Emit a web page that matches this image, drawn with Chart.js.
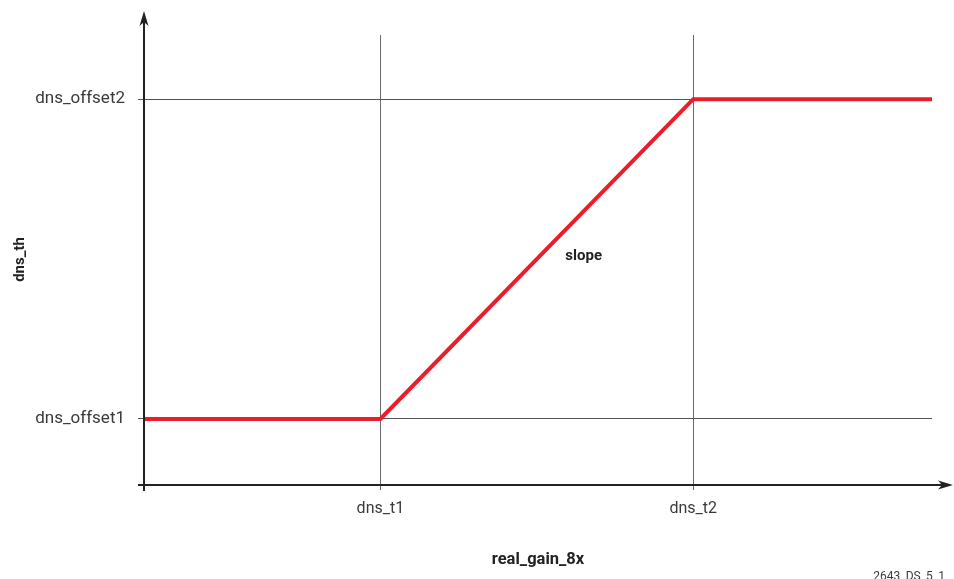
<!DOCTYPE html>
<html>
<head>
<meta charset="utf-8">
<script src="https://cdn.jsdelivr.net/npm/chart.js@4"></script>
<style>
  html, body { margin: 0; padding: 0; background: #fff; }
  #wrap { width: 954px; height: 579px; position: relative; }
</style>
</head>
<body>
<div id="wrap"><canvas id="dnsChart"></canvas></div>
<script>
// Tick positions and names (x: real_gain_8x, y: dns_th)
const xTickValues = [3.0, 6.97];
const xTickLabels = ['dns_t1', 'dns_t2'];
const yTickValues = [1.45, 8.57];
const yTickLabels = ['dns_offset1', 'dns_offset2'];

// Threshold curve
const curveX = [0, 3.0, 6.97, 10];
const curveY = [1.45, 1.45, 8.57, 8.57];

const slopeLabel = { x: 5.58, y: 5.08, text: 'slope' };
const footnote = '2643_DS_5_1';

const FONT = 'Roboto, "Liberation Sans", sans-serif';
const TEXT = '#3a3a3a';

// draws the arrowed axes, the "slope" note and the footnote
const axesPlugin = {
    id: 'arrowAxes',
    afterDraw(chart) {
        const c = chart.ctx;
        const xs = chart.scales.x, ys = chart.scales.y;
        const x0 = xs.getPixelForValue(0);
        const y0 = ys.getPixelForValue(0) + 1;
        c.save();
        c.strokeStyle = '#222';
        c.fillStyle = '#222';
        c.lineWidth = 2;
        // y axis
        c.beginPath();
        c.moveTo(x0, y0 + 6);
        c.lineTo(x0, 20);
        c.stroke();
        c.beginPath();
        c.moveTo(x0, 11);
        c.lineTo(x0 - 4.5, 26);
        c.lineTo(x0, 22);
        c.lineTo(x0 + 4.5, 26);
        c.closePath();
        c.fill();
        // x axis
        c.beginPath();
        c.moveTo(x0 - 6, y0);
        c.lineTo(944, y0);
        c.stroke();
        c.beginPath();
        c.moveTo(953, y0);
        c.lineTo(938, y0 - 4.5);
        c.lineTo(942, y0);
        c.lineTo(938, y0 + 4.5);
        c.closePath();
        c.fill();

        c.fillStyle = '#222';
        c.font = 'bold 15px ' + FONT;
        c.textAlign = 'center';
        c.textBaseline = 'middle';
        c.fillText(slopeLabel.text, xs.getPixelForValue(slopeLabel.x), ys.getPixelForValue(slopeLabel.y));

        c.font = '12px ' + FONT;
        c.fillStyle = TEXT;
        c.textAlign = 'right';
        c.textBaseline = 'alphabetic';
        c.fillText(footnote, 945, 580);
        c.restore();
    }
};

new Chart(document.getElementById('dnsChart'), {
    type: 'line',
    data: {
        datasets: [{
            data: curveX.map((x, i) => ({ x: x, y: curveY[i] })),
            borderColor: '#ec1c2a',
            borderWidth: 4,
            pointRadius: 0,
            fill: false,
            tension: 0,
            borderJoinStyle: 'miter'
        }]
    },
    options: {
        responsive: true,
        maintainAspectRatio: false,
        animation: false,
        layout: { padding: { left: 0, top: 35, right: 22, bottom: 0 } },
        plugins: {
            legend: { display: false },
            tooltip: { enabled: false }
        },
        scales: {
            x: {
                type: 'linear',
                min: 0,
                max: 10,
                afterFit(scale) { scale.height = 95; },
                afterBuildTicks(scale) {
                    scale.ticks = xTickValues.map(v => ({ value: v }));
                },
                border: { display: false },
                grid: { color: '#6a6a6a', lineWidth: 1, tickLength: 6 },
                ticks: {
                    color: TEXT,
                    font: { family: FONT, size: 16 },
                    padding: 9,
                    maxRotation: 0,
                    callback: (v) => xTickLabels[xTickValues.indexOf(v)]
                },
                title: {
                    display: true,
                    text: 'real_gain_8x',
                    color: '#222',
                    font: { family: FONT, size: 16.5, weight: 'bold' },
                    padding: { top: 0, bottom: 9 }
                }
            },
            y: {
                type: 'linear',
                min: 0,
                max: 10,
                afterFit(scale) { scale.width = 144; },
                afterBuildTicks(scale) {
                    scale.ticks = yTickValues.map(v => ({ value: v }));
                },
                border: { display: false },
                grid: { color: '#555', lineWidth: 1, tickLength: 6 },
                ticks: {
                    color: TEXT,
                    font: { family: FONT, size: 17 },
                    padding: 13,
                    callback: (v) => yTickLabels[yTickValues.indexOf(v)]
                },
                title: {
                    display: true,
                    text: 'dns_th',
                    color: '#222',
                    font: { family: FONT, size: 15, weight: 'bold' },
                    padding: { top: 11, bottom: 0 }
                }
            }
        }
    },
    plugins: [axesPlugin]
});
</script>
</body>
</html>
